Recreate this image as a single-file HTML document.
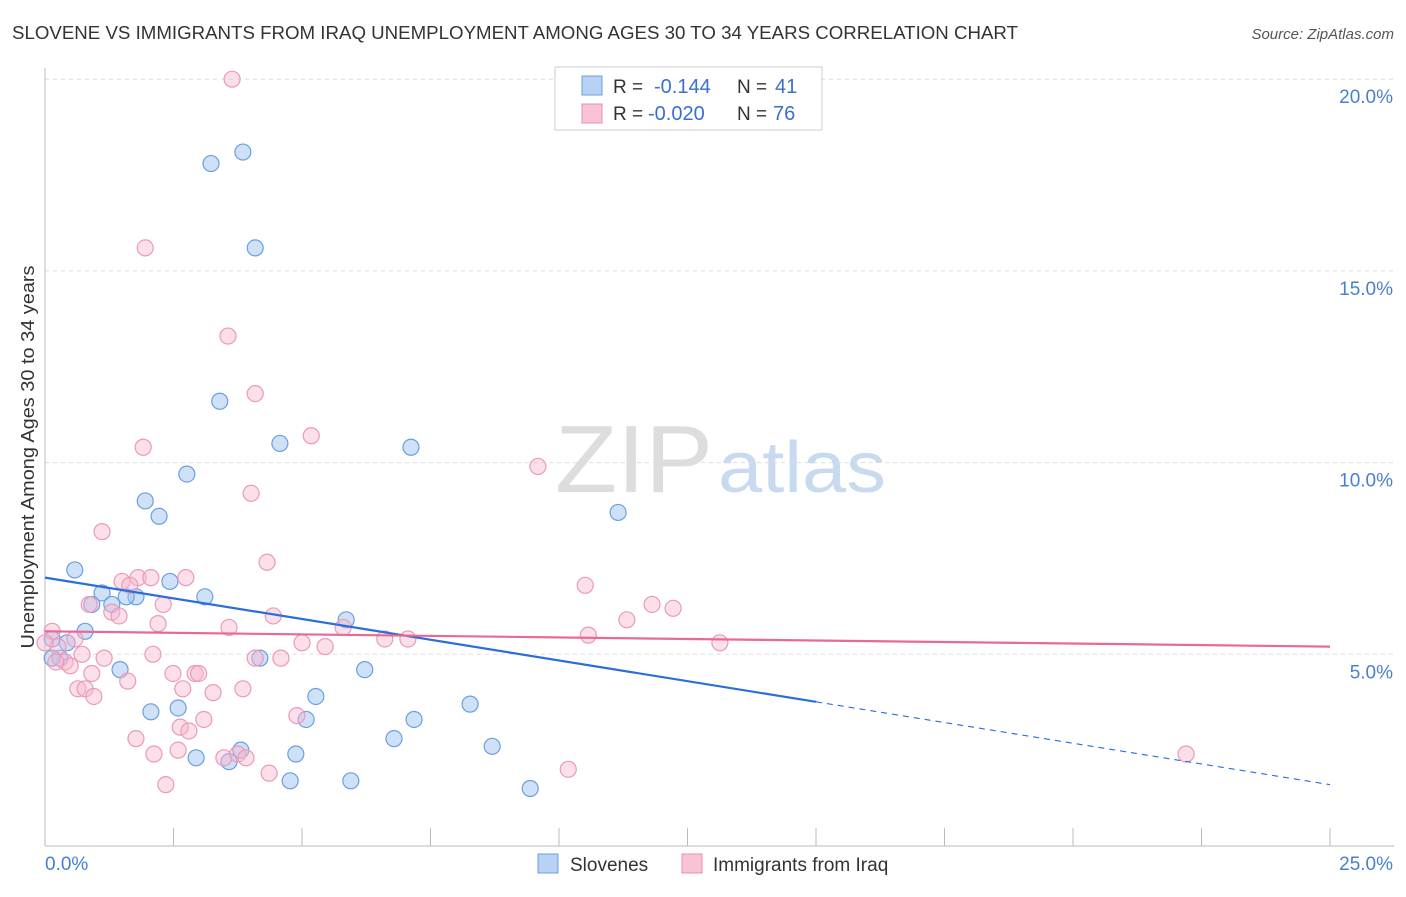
<!DOCTYPE html>
<html><head><meta charset="utf-8"><style>
body{margin:0;background:#fff;font-family:"Liberation Sans",sans-serif;}
svg text{font-family:"Liberation Sans",sans-serif;}
</style></head><body>
<svg id="c" width="1406" height="892" xmlns="http://www.w3.org/2000/svg">
<text x="12" y="39" font-size="18" fill="#333" textLength="1006" lengthAdjust="spacingAndGlyphs">SLOVENE VS IMMIGRANTS FROM IRAQ UNEMPLOYMENT AMONG AGES 30 TO 34 YEARS CORRELATION CHART</text>
<text x="1394" y="39" font-size="15" fill="#555" text-anchor="end" font-style="italic">Source: ZipAtlas.com</text>
<text x="555" y="492" font-size="96" fill="#ddd" font-family="Liberation Serif" textLength="158" lengthAdjust="spacingAndGlyphs">ZIP</text>
<text x="718" y="492" font-size="72" fill="#c8daf0" textLength="168" lengthAdjust="spacingAndGlyphs">atlas</text>
<text transform="translate(34,457) rotate(-90)" font-size="18" fill="#333" text-anchor="middle" textLength="383" lengthAdjust="spacingAndGlyphs">Unemployment Among Ages 30 to 34 years</text>
<g id="grid"></g><g id="pts"></g><g id="lines"></g>
<g>
<rect x="555" y="67" width="267" height="63" fill="#fff" stroke="#ccc"/>
<rect x="582" y="76" width="20" height="19" fill="#b8d2f4" stroke="#6a9fe0"/>
<rect x="582" y="104" width="20" height="19" fill="#f8c4d4" stroke="#e890b0"/>
<text x="613" y="93" font-size="19" fill="#333">R =</text>
<text x="654" y="93" font-size="20" fill="#3a6fd0">-0.144</text>
<text x="737" y="93" font-size="19" fill="#333">N =</text>
<text x="775" y="93" font-size="20" fill="#3a6fd0">41</text>
<text x="613" y="120" font-size="19" fill="#333">R =</text>
<text x="648" y="120" font-size="20" fill="#3a6fd0">-0.020</text>
<text x="737" y="120" font-size="19" fill="#333">N =</text>
<text x="773" y="120" font-size="20" fill="#3a6fd0">76</text>
</g>
<g>
<rect x="538" y="854" width="20" height="19" fill="#b8d2f4" stroke="#6a9fe0"/>
<text x="570" y="871" font-size="19" fill="#333">Slovenes</text>
<rect x="682" y="854" width="20" height="19" fill="#f8c4d4" stroke="#e890b0"/>
<text x="713" y="871" font-size="19" fill="#333">Immigrants from Iraq</text>
</g>
</svg>
<script>
const yTicks=[5,10,15,20];
const yTickLabels=["5.0%","10.0%","15.0%","20.0%"];
const xTicks=[0,2.5,5,7.5,10,12.5,15,17.5,20,22.5,25];
const slovX=[3.85,3.23,4.09,3.40,4.57,7.12,2.76,1.95,2.22,11.15,0.58,2.43,1.11,1.77,3.11,0.91,1.30,1.58,0.78,5.86,0.14,0.43,0.29,0.14,1.46,4.18,6.22,5.27,2.59,2.06,8.27,5.08,7.18,6.79,8.70,3.81,4.88,2.94,3.58,4.77,5.95,9.44];
const slovY=[18.1,17.8,15.6,11.6,10.5,10.4,9.7,9.0,8.6,8.7,7.2,6.9,6.6,6.5,6.5,6.3,6.3,6.5,5.6,5.9,5.4,5.3,4.9,4.9,4.6,4.9,4.6,3.9,3.6,3.5,3.7,3.3,3.3,2.8,2.6,2.5,2.4,2.3,2.2,1.7,1.7,1.5];
const iraqX=[3.64,1.95,3.56,4.09,5.18,1.91,9.59,4.01,1.11,4.32,1.81,2.06,2.74,1.50,1.65,10.51,0.86,2.30,12.22,11.81,1.30,1.44,4.44,3.58,2.20,5.80,11.32,10.57,7.06,0.14,0.58,6.61,5.00,5.45,13.13,0.25,0,0.72,2.10,1.15,4.09,4.59,0.39,0.49,0.21,2.92,2.49,2.99,0.91,1.61,0.64,0.78,0.95,2.68,3.27,3.85,3.09,4.90,2.63,2.80,1.77,2.59,2.12,3.48,3.75,3.91,10.18,4.36,2.35,22.2];
const iraqY=[20.0,15.6,13.3,11.8,10.7,10.4,9.9,9.2,8.2,7.4,7.0,7.0,7.0,6.9,6.8,6.8,6.3,6.3,6.2,6.3,6.1,6.0,6.0,5.7,5.8,5.7,5.9,5.5,5.4,5.6,5.4,5.4,5.3,5.2,5.3,5.2,5.3,5.0,5.0,4.9,4.9,4.9,4.8,4.7,4.8,4.5,4.5,4.5,4.5,4.3,4.1,4.1,3.9,4.1,4.0,4.1,3.3,3.4,3.1,3.0,2.8,2.5,2.4,2.3,2.4,2.3,2.0,1.9,1.6,2.4];
const X=v=>45+v/25*1285, Y=v=>846-v/5*191.7;
const NS="http://www.w3.org/2000/svg";
function mk(t,a,p){const e=document.createElementNS(NS,t);for(const k in a)e.setAttribute(k,a[k]);p.appendChild(e);return e;}
const g=document.getElementById('grid');
yTicks.forEach((v,i)=>{
 const l=mk('line',{x1:45,x2:1394,y1:Y(v),y2:Y(v),stroke:'#ddd','stroke-dasharray':'4,4'},g);
 
 
 const t=mk('text',{x:1393,y:Y(v)+24,'font-size':19,fill:'#4a7fd0','text-anchor':'end'},g);
 
 
 t.textContent=yTickLabels[i];
});
mk('line',{x1:45,x2:45,y1:68,y2:846,stroke:'#bbb'},g);
mk('line',{x1:45,x2:1394,y1:846,y2:846,stroke:'#bbb'},g);
xTicks.forEach(v=>{const l=mk('line',{x1:X(v),x2:X(v),y1:828,y2:846,stroke:'#bbb'},g);
 
 });
let t=mk('text',{x:45,y:870,'font-size':19,fill:'#4a7fd0'},g);t.textContent='0.0%';


t=mk('text',{x:1393,y:870,'font-size':19,fill:'#4a7fd0','text-anchor':'end'},g);t.textContent='25.0%';


const p=document.getElementById('pts');
slovX.forEach((x,i)=>{const c=mk('circle',{cx:X(x),cy:Y(slovY[i]),r:8,fill:'rgba(160,196,240,0.5)',stroke:'#6a9fe0','stroke-width':1.2},p);
 
 });
iraqX.forEach((x,i)=>{const c=mk('circle',{cx:X(x),cy:Y(iraqY[i]),r:8,fill:'rgba(246,184,206,0.45)',stroke:'#eb9ab8','stroke-width':1.2},p);
 
 });
const L=document.getElementById('lines');
const b0=7.0,b1=(7.0-1.6)/25,sEnd=15;
let l=mk('line',{x1:X(0),y1:Y(b0),x2:X(sEnd),y2:Y(b0-b1*sEnd),stroke:'#2a6fd8','stroke-width':2.2},L);


l=mk('line',{x1:X(sEnd),y1:Y(b0-b1*sEnd),x2:X(25),y2:Y(b0-b1*25),stroke:'#2a6fd8','stroke-width':1.2,'stroke-dasharray':'6,5'},L);


l=mk('line',{x1:X(0),y1:Y(5.6),x2:X(25),y2:Y(5.2),stroke:'#e86896','stroke-width':2.2},L);


</script>
</body></html>
